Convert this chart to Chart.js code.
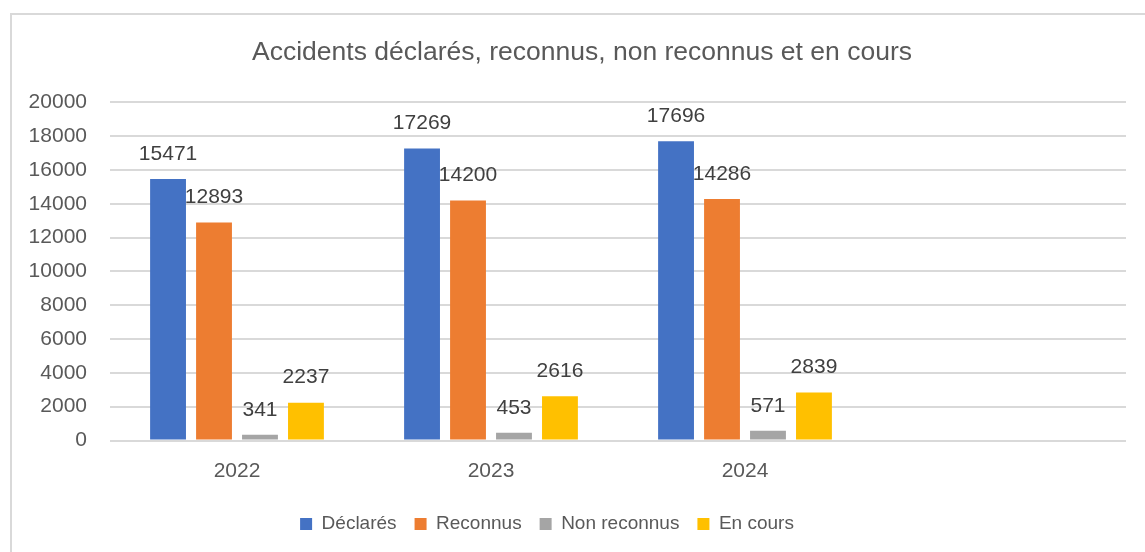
<!DOCTYPE html>
<html>
<head>
<meta charset="utf-8">
<script src="https://cdn.jsdelivr.net/npm/chart.js"></script>
<style>
  html, body { margin: 0; padding: 0; background: #fff; overflow: hidden; }
  #frame {
    position: absolute; left: 10px; top: 13px;
    width: 1135px; height: 539px;
    border-left: 2px solid #d9d9d9; border-top: 2px solid #d9d9d9;
  }
</style>
</head>
<body>
<div id="frame"><canvas id="chart" width="1133" height="537"></canvas></div>
<script>
const years = ['2022', '2023', '2024', ''];  // last slot is empty in the original
const declares = [15471, 17269, 17696, null];
const reconnus = [12893, 14200, 14286, null];
const nonReconnus = [341, 453, 571, null];
const enCours = [2237, 2616, 2839, null];
const seriesNames = ['Déclarés', 'Reconnus', 'Non reconnus', 'En cours'];
const seriesColors = ['#4472C4', '#ED7D31', '#A5A5A5', '#FFC000'];

const FONT = "'Liberation Sans', Arial, sans-serif";

// value labels above each bar
const valueLabels = {
  id: 'valueLabels',
  afterDatasetsDraw(chart) {
    const ctx = chart.ctx;
    ctx.save();
    ctx.font = '21px ' + FONT;
    ctx.fillStyle = '#404040';
    ctx.textAlign = 'center';
    ctx.textBaseline = 'middle';
    chart.data.datasets.forEach((ds, i) => {
      chart.getDatasetMeta(i).data.forEach((bar, j) => {
        if (ds.data[j] == null) return;
        ctx.fillText(ds.data[j], bar.x, bar.y - 25);
      });
    });
    ctx.restore();
  }
};

// nudge title and legend sideways to where they sit in the original
const nudge = {
  id: 'nudge',
  afterLayout(chart) {
    chart.titleBlock.left += 13; chart.titleBlock.right += 13;
    chart.legend.left -= 22; chart.legend.right -= 22;
  }
};

const allData = [declares, reconnus, nonReconnus, enCours];
const datasets = seriesNames.map((name, i) => ({
  label: name,
  data: allData[i],
  backgroundColor: seriesColors[i],
  borderWidth: 0,
  categoryPercentage: 0.724,
  barPercentage: 0.78
}));

new Chart(document.getElementById('chart').getContext('2d'), {
  type: 'bar',
  data: { labels: years, datasets: datasets },
  plugins: [valueLabels, nudge],
  options: {
    responsive: false,
    animation: false,
    layout: { padding: { left: 0, right: 19, top: 0, bottom: 8.5 } },
    plugins: {
      title: {
        display: true,
        text: 'Accidents déclarés, reconnus, non reconnus et en cours',
        color: '#595959',
        font: { family: FONT, size: 26.5, weight: 'normal' },
        padding: { top: 22, bottom: 33.5 }
      },
      legend: {
        position: 'bottom',
        labels: {
          color: '#595959',
          font: { family: FONT, size: 19 },
          boxWidth: 12,
          boxHeight: 12,
          padding: 18
        }
      },
      tooltip: { enabled: false }
    },
    scales: {
      x: {
        grid: { display: false, drawTicks: false },
        border: { display: false },
        ticks: { color: '#595959', font: { family: FONT, size: 21 }, padding: 18 },
        afterFit(scale) { scale.height = 56; }
      },
      y: {
        min: 0,
        max: 20000,
        grid: { color: '#d9d9d9', lineWidth: 2, drawTicks: false },
        border: { display: false },
        ticks: {
          stepSize: 2000, color: '#595959', font: { family: FONT, size: 21 }, padding: 23,
          callback: (v) => String(v)
        },
        afterFit(scale) { scale.width = 98; }
      }
    }
  }
});
</script>
</body>
</html>
